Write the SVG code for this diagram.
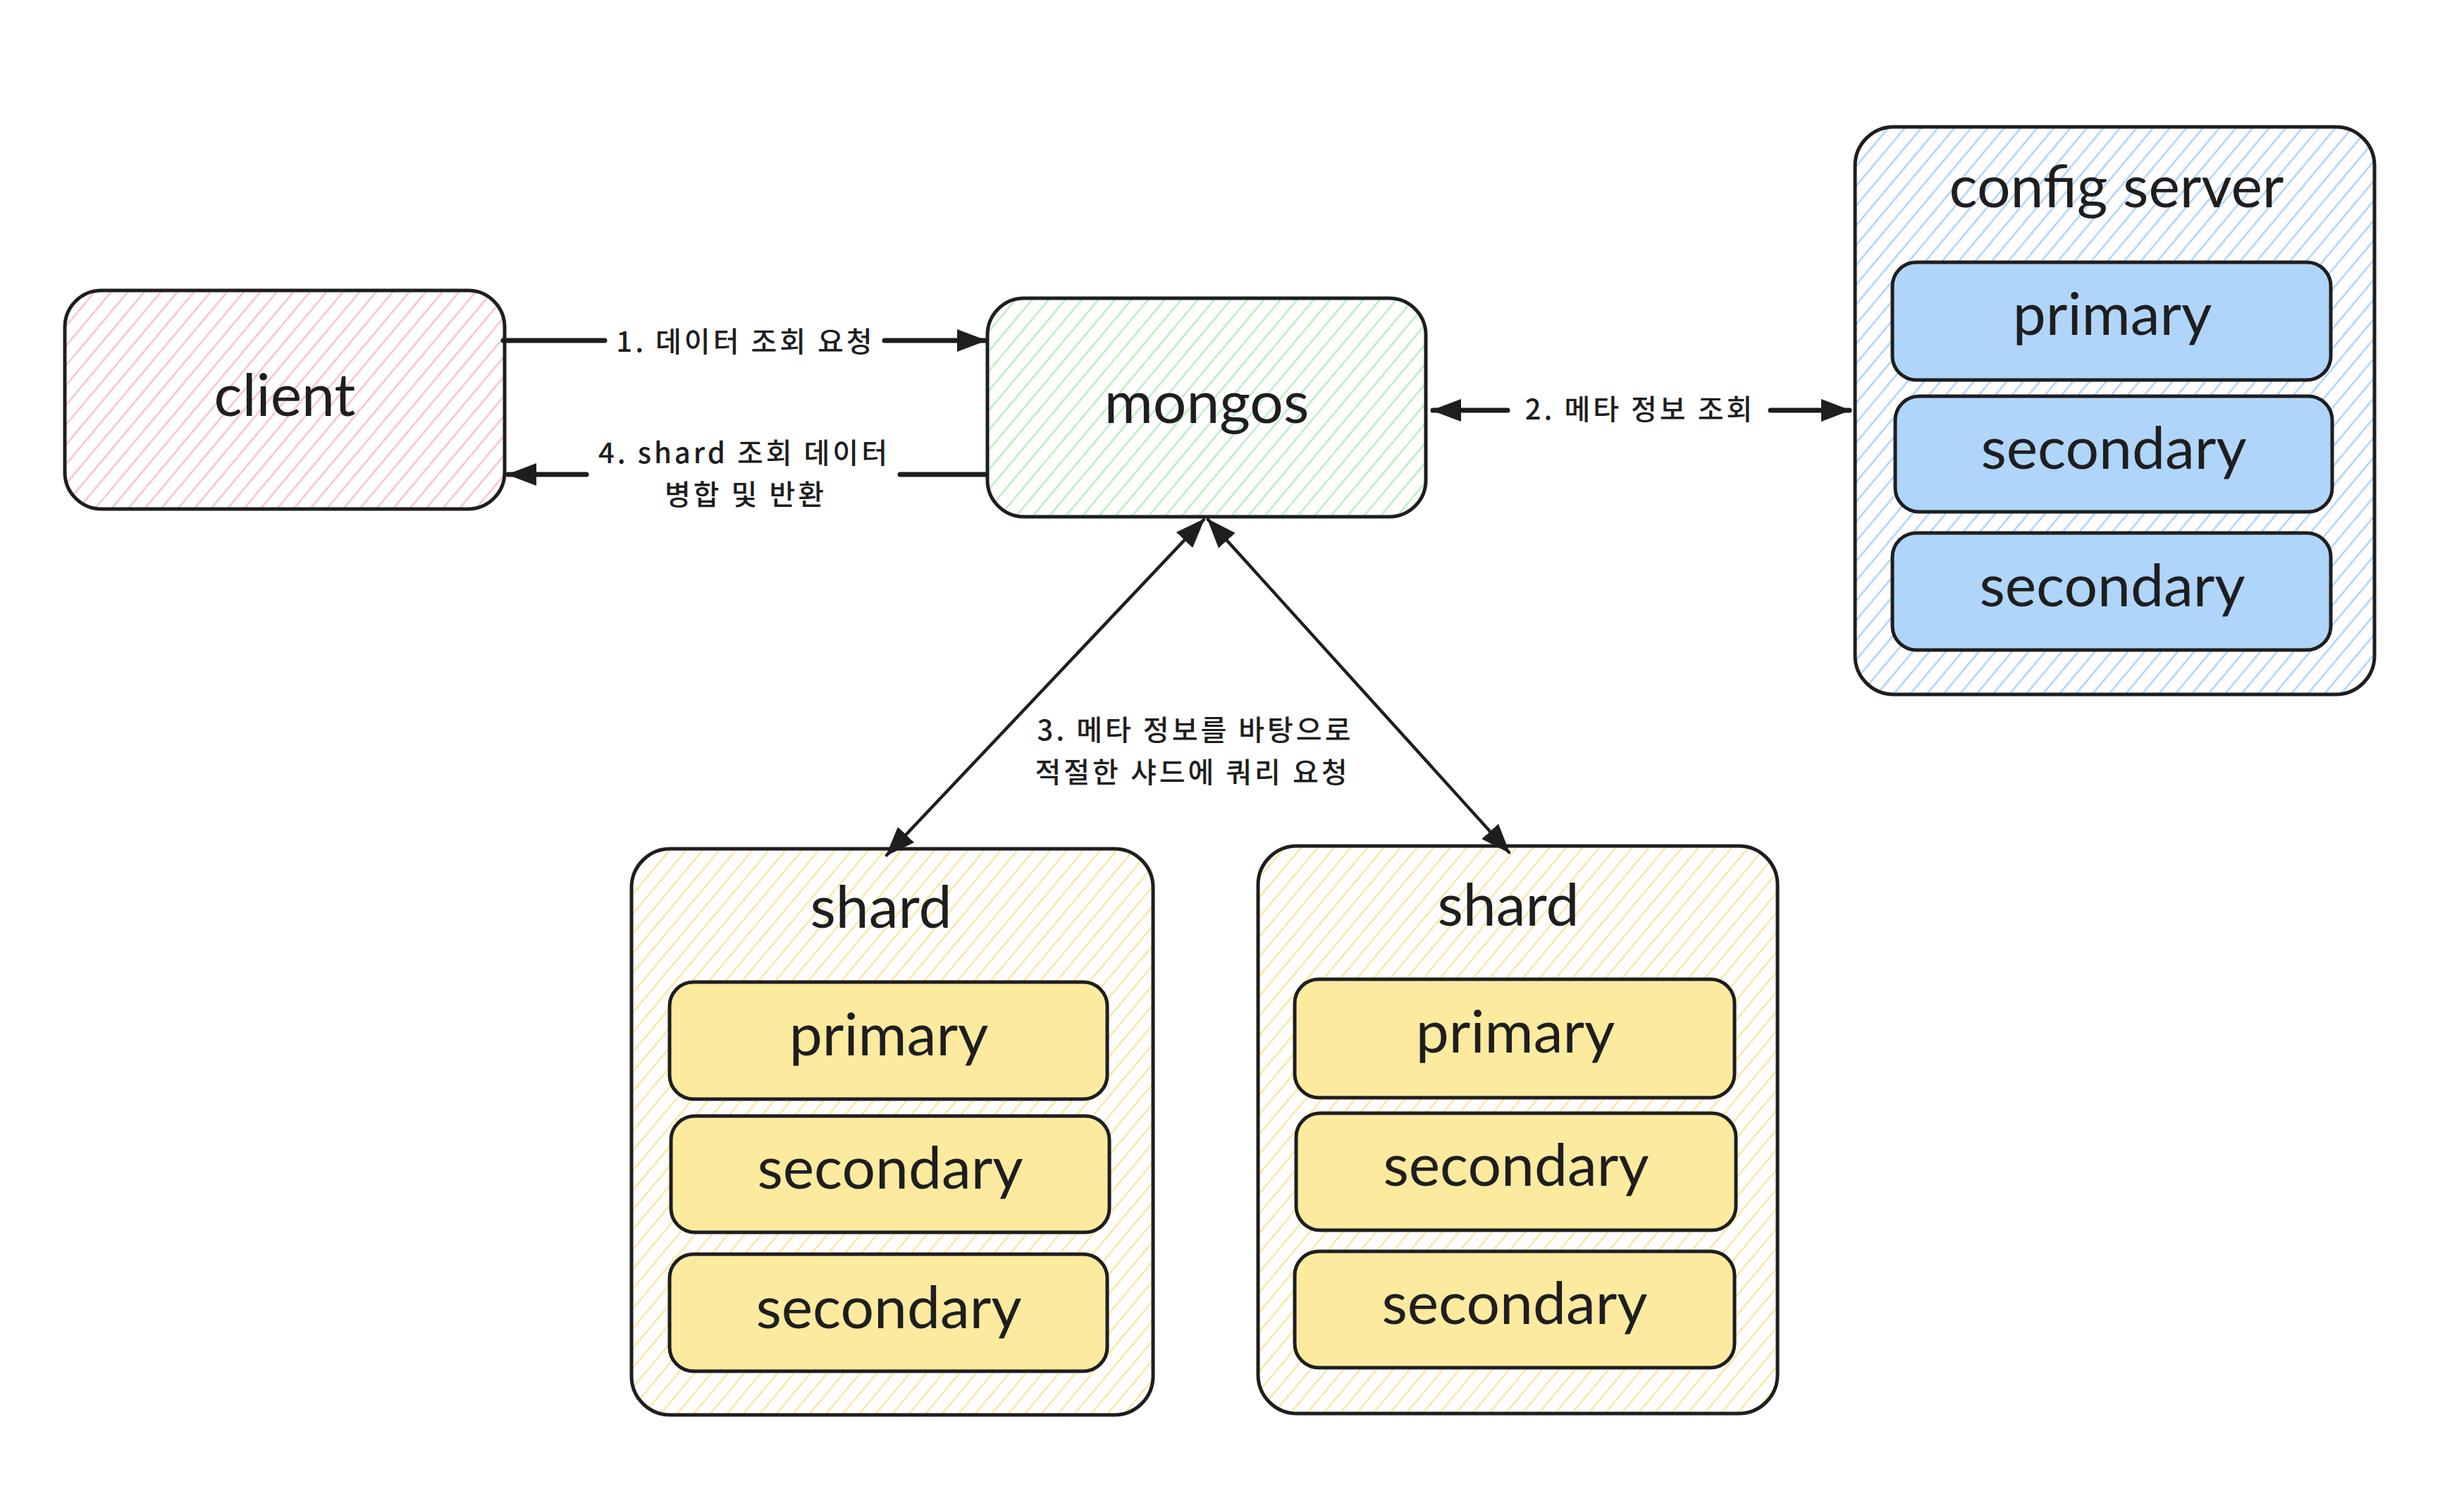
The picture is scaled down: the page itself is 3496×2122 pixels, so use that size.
<svg xmlns="http://www.w3.org/2000/svg" width="3496" height="2122" viewBox="0 0 3496 2122">
<style>
.box{stroke:#1e1e1e;stroke-width:5;stroke-linejoin:round}
.inner-blue{fill:#b0d5fa}
.inner-yellow{fill:#fcea9f}
.name{font-family:Lato,"Noto Sans","Liberation Sans",sans-serif;font-size:84px;fill:#1e1e1e;text-anchor:middle}
.lbl{font-family:"Noto Sans CJK KR","Noto Sans",sans-serif;font-size:40px;font-weight:500;letter-spacing:4px;fill:#1e1e1e;text-anchor:middle;dominant-baseline:central}
.conn{fill:none;stroke:#1e1e1e;stroke-linecap:round}
.thick{stroke-width:7}
.thin{stroke-width:4.5}
</style>
<defs>
<pattern id="h-red" patternUnits="userSpaceOnUse" width="18" height="18" patternTransform="rotate(40)"><line x1="9" y1="-2" x2="9" y2="20" stroke="#f6c3c3" stroke-width="2.5"/></pattern>
<pattern id="h-green" patternUnits="userSpaceOnUse" width="18" height="18" patternTransform="rotate(40)"><line x1="9" y1="-2" x2="9" y2="20" stroke="#b8ecbf" stroke-width="2.5"/></pattern>
<pattern id="h-blue" patternUnits="userSpaceOnUse" width="18" height="18" patternTransform="rotate(40)"><line x1="9" y1="-2" x2="9" y2="20" stroke="#a9d3fa" stroke-width="2.5"/></pattern>
<pattern id="h-yellow" patternUnits="userSpaceOnUse" width="18" height="18" patternTransform="rotate(40)"><line x1="9" y1="-2" x2="9" y2="20" stroke="#f8e79c" stroke-width="2.5"/></pattern>
<marker id="ah" viewBox="0 0 42 34" refX="40" refY="17" markerWidth="42" markerHeight="34" markerUnits="userSpaceOnUse" orient="auto-start-reverse"><path d="M0,1 L42,17 L0,33 Z" fill="#1e1e1e"/></marker>
</defs>
<rect width="3496" height="2122" fill="#ffffff"/>

<g id="client">
<rect class="box" x="92" y="412" width="624" height="310" rx="52" fill="url(#h-red)"/>
<text class="name" x="404" y="590">client</text>
</g>

<g id="mongos">
<rect class="box" x="1401" y="423" width="622" height="310" rx="52" fill="url(#h-green)"/>
<text class="name" x="1712" y="600">mongos</text>
</g>

<g id="config-server">
<rect class="box" x="2632" y="180" width="737" height="805" rx="55" fill="url(#h-blue)"/>
<text class="name" x="3003" y="294">config server</text>
<g id="config-primary">
<rect class="box inner-blue" x="2685" y="372" width="622" height="167" rx="34"/>
<text class="name" x="2997" y="475">primary</text>
</g>
<g id="config-secondary-1">
<rect class="box inner-blue" x="2689" y="562" width="620" height="164" rx="34"/>
<text class="name" x="2999" y="665">secondary</text>
</g>
<g id="config-secondary-2">
<rect class="box inner-blue" x="2685" y="756" width="622" height="166" rx="34"/>
<text class="name" x="2997" y="860">secondary</text>
</g>
</g>

<g id="shard-1">
<rect class="box" x="896" y="1204" width="740" height="803" rx="55" fill="url(#h-yellow)"/>
<text class="name" x="1250" y="1316">shard</text>
<g id="shard-1-primary">
<rect class="box inner-yellow" x="950" y="1393" width="621" height="166" rx="34"/>
<text class="name" x="1261" y="1497">primary</text>
</g>
<g id="shard-1-secondary-1">
<rect class="box inner-yellow" x="952" y="1583" width="622" height="165" rx="34"/>
<text class="name" x="1263" y="1686">secondary</text>
</g>
<g id="shard-1-secondary-2">
<rect class="box inner-yellow" x="950" y="1779" width="621" height="166" rx="34"/>
<text class="name" x="1261" y="1884">secondary</text>
</g>
</g>

<g id="shard-2">
<rect class="box" x="1785" y="1200" width="737" height="805" rx="55" fill="url(#h-yellow)"/>
<text class="name" x="2140" y="1313">shard</text>
<g id="shard-2-primary">
<rect class="box inner-yellow" x="1837" y="1389" width="624" height="168" rx="34"/>
<text class="name" x="2150" y="1493">primary</text>
</g>
<g id="shard-2-secondary-1">
<rect class="box inner-yellow" x="1839" y="1579" width="624" height="166" rx="34"/>
<text class="name" x="2151" y="1682">secondary</text>
</g>
<g id="shard-2-secondary-2">
<rect class="box inner-yellow" x="1837" y="1775" width="624" height="165" rx="34"/>
<text class="name" x="2149" y="1878">secondary</text>
</g>
</g>

<g id="connectors">
<path class="conn thick" d="M714,483 L858,483 M1255,483 L1398,483" marker-end="url(#ah)"/>
<text class="lbl" x="1058" y="482">1. 데이터 조회 요청</text>

<path class="conn thick" d="M1398,673 L1277,673 M832,673 L721,673" marker-end="url(#ah)"/>
<text class="lbl" x="1056" y="640">4. shard 조회 데이터</text>
<text class="lbl" x="1058" y="699">병합 및 반환</text>

<path class="conn thick" d="M2033,582 L2139,582 M2512,582 L2624,582" marker-start="url(#ah)" marker-end="url(#ah)"/>
<text class="lbl" x="2327" y="578">2. 메타 정보 조회</text>

<path class="conn thin" d="M1708,737 L1258,1213" marker-start="url(#ah)" marker-end="url(#ah)"/>
<path class="conn thin" d="M1714,737 L2141,1209" marker-start="url(#ah)" marker-end="url(#ah)"/>
<text class="lbl" x="1696" y="1033">3. 메타 정보를 바탕으로</text>
<text class="lbl" x="1692" y="1093">적절한 샤드에 쿼리 요청</text>
</g>
</svg>
